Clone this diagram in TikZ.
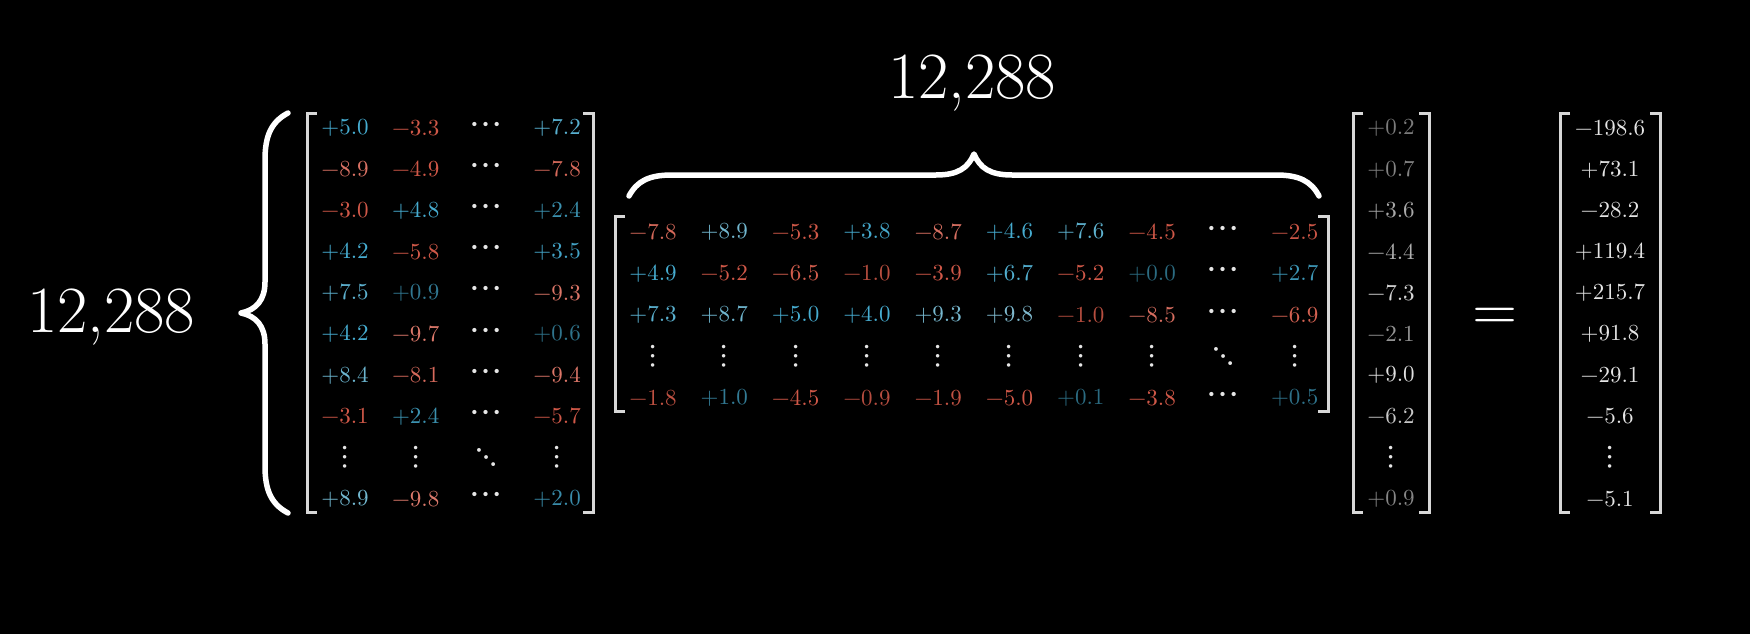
\documentclass[tikz,border=0pt]{standalone}
\usepackage{fontspec}
\setmainfont{Latin Modern Roman}
\newfontfamily\entfont{lmroman10-regular.otf}
\newfontfamily\dotfont{latinmodern-math.otf}
\definecolor{bluebase}{RGB}{70,172,208}
\definecolor{bluepale}{RGB}{185,200,205}
\definecolor{redbase}{RGB}{208,88,72}
\definecolor{redpale}{RGB}{245,185,175}
\definecolor{brk}{RGB}{215,215,215}
\definecolor{dotc}{RGB}{230,230,230}

\def\splitsign#1#2\relax{\def\sgn{#1}\def\mag{#2}}
\newcommand\setblue{%
  \pgfmathtruncatemacro\lev{min(100,62+9.5*\mag)}%
  \pgfmathtruncatemacro\keep{100-max(0,(\mag-6)*13)}%
  \colorlet{tc}{bluebase!\lev!black!\keep!bluepale}}
\newcommand\setred{%
  \pgfmathtruncatemacro\lev{min(100,82+6*\mag)}%
  \pgfmathtruncatemacro\keep{100-max(0,(\mag-6)*9)}%
  \colorlet{tc}{redbase!\lev!black!\keep!redpale}}
\newcommand\setgreycolor{%
  \pgfmathtruncatemacro\lev{min(88,48+5*\mag)}%
  \colorlet{tc}{white!\lev!black}}
% coloured matrix entry
\newcommand\placeentry[4]{%
  \expandafter\splitsign#4\relax
  \if\sgn c\node[hdots] (#1) at (#2,#3) {⋯};\fi
  \if\sgn v\node[vdotsn] (#1) at (#2,#3) {⋮};\fi
  \if\sgn d\node[ddotsn] (#1) at (#2,#3) {⋱};\fi
  \if\sgn+\setblue\node[ent,text=tc] (#1) at (#2,#3) {+\mag};\fi
  \if\sgn-\setred\node[ent,text=tc] (#1) at (#2,#3) {−\mag};\fi}
% grey vector entry
\newcommand\placegrey[4]{%
  \expandafter\splitsign#4\relax
  \if\sgn v\node[vdotsn] (#1) at (#2,#3) {⋮};\fi
  \if\sgn+\setgreycolor\node[ent,text=tc] (#1) at (#2,#3) {+\mag};\fi
  \if\sgn-\setgreycolor\node[ent,text=tc] (#1) at (#2,#3) {−\mag};\fi}
% white vector entry
\newcommand\placewhite[4]{%
  \expandafter\splitsign#4\relax
  \if\sgn v\node[vdotsn] (#1) at (#2,#3) {⋮};\fi
  \if\sgn+\node[ent,text=white!90!black] (#1) at (#2,#3) {+\mag};\fi
  \if\sgn-\node[ent,text=white!90!black] (#1) at (#2,#3) {−\mag};\fi}

\tikzset{
  ent/.style={inner sep=0pt, font=\entfont\fontsize{23}{23}\selectfont},
  hdots/.style={inner sep=0pt, text=dotc, font=\dotfont\fontsize{40}{40}\selectfont},
  vdotsn/.style={inner sep=0pt, text=dotc, font=\dotfont\fontsize{33}{33}\selectfont},
  ddotsn/.style={inner sep=0pt, text=dotc, font=\dotfont\fontsize{36}{36}\selectfont},
  bigtxt/.style={inner sep=0pt, text=white, font=\fontsize{66}{66}\selectfont},
  bracketline/.style={draw=brk, line width=3pt, line cap=butt, line join=miter},
  bracepath/.style={draw=white, line width=5.5pt, line cap=round, line join=round},
}

\begin{document}
\begin{tikzpicture}[x=1pt,y=-1pt]
\fill[black] (0,0) rectangle (1750,634);
\useasboundingbox (0,0) rectangle (1750,634);

% ---------- labels ----------
\node[bigtxt, anchor=base] (lableft) at (111,332) {12,288};
\node[bigtxt, anchor=base] (labtop) at (972,98) {12,288};
\node[inner sep=0pt, text=white, font=\entfont\fontsize{58}{58}\selectfont, anchor=base] (eq) at (1495,329.5) {=};

% ---------- left brace ----------
\draw[bracepath] (288,113) .. controls (271,122) and (265,136) .. (265,160)
  -- (265,282) .. controls (265,300) and (256,310) .. (241,313)
  .. controls (256,316) and (265,326) .. (265,344)
  -- (265,466) .. controls (265,490) and (271,504) .. (288,513);

% ---------- top brace ----------
\draw[bracepath] (629,196) .. controls (637,181) and (649,175) .. (672,175)
  -- (936,175) .. controls (958,175) and (968,168) .. (974,154)
  .. controls (980,168) and (990,175) .. (1012,175)
  -- (1276,175) .. controls (1299,175) and (1311,181) .. (1319,196);

% ---------- brackets ----------
\draw[bracketline] (317,113) -- (307,113) -- (307,512) -- (317,512);
\draw[bracketline] (583,113) -- (593,113) -- (593,512) -- (583,512);
\draw[bracketline] (625,216) -- (615,216) -- (615,411) -- (625,411);
\draw[bracketline] (1318,216) -- (1328,216) -- (1328,411) -- (1318,411);
\draw[bracketline] (1363,113) -- (1353,113) -- (1353,512) -- (1363,512);
\draw[bracketline] (1419,113) -- (1429,113) -- (1429,512) -- (1419,512);
\draw[bracketline] (1570,113) -- (1560,113) -- (1560,512) -- (1570,512);
\draw[bracketline] (1650,113) -- (1660,113) -- (1660,512) -- (1650,512);

% ---------- left matrix ----------
\foreach \row [count=\i] in {%
  {+5.0,-3.3,c,+7.2},{-8.9,-4.9,c,-7.8},{-3.0,+4.8,c,+2.4},{+4.2,-5.8,c,+3.5},%
  {+7.5,+0.9,c,-9.3},{+4.2,-9.7,c,+0.6},{+8.4,-8.1,c,-9.4},{-3.1,+2.4,c,-5.7},%
  {v,v,d,v},{+8.9,-9.8,c,+2.0}}{
  \foreach \v [count=\j] in \row {
    \pgfmathsetmacro\xx{345+(\j-1)*70.7}
    \pgfmathsetmacro\yy{128+(\i-1)*41.2}
    \placeentry{L-\i-\j}{\xx}{\yy}{\v}
  }
}

% ---------- middle matrix ----------
\foreach \row [count=\i] in {%
  {-7.8,+8.9,-5.3,+3.8,-8.7,+4.6,+7.6,-4.5,c,-2.5},%
  {+4.9,-5.2,-6.5,-1.0,-3.9,+6.7,-5.2,+0.0,c,+2.7},%
  {+7.3,+8.7,+5.0,+4.0,+9.3,+9.8,-1.0,-8.5,c,-6.9},%
  {v,v,v,v,v,v,v,v,d,v},%
  {-1.8,+1.0,-4.5,-0.9,-1.9,-5.0,+0.1,-3.8,c,+0.5}}{
  \foreach \v [count=\j] in \row {
    \pgfmathsetmacro\xx{653+(\j-1)*71.3}
    \pgfmathsetmacro\yy{232+(\i-1)*41.5}
    \placeentry{M-\i-\j}{\xx}{\yy}{\v}
  }
}

% ---------- input vector ----------
\foreach \v [count=\i] in {+0.2,+0.7,+3.6,-4.4,-7.3,-2.1,+9.0,-6.2,v,+0.9}{
  \pgfmathsetmacro\yy{128+(\i-1)*41.2}
  \placegrey{V-\i}{1391}{\yy}{\v}
}

% ---------- output vector ----------
\foreach \v [count=\i] in {-198.6,+73.1,-28.2,+119.4,+215.7,+91.8,-29.1,-5.6,v,-5.1}{
  \pgfmathsetmacro\yy{128+(\i-1)*41.2}
  \placewhite{R-\i}{1610}{\yy}{\v}
}
\end{tikzpicture}
\end{document}
